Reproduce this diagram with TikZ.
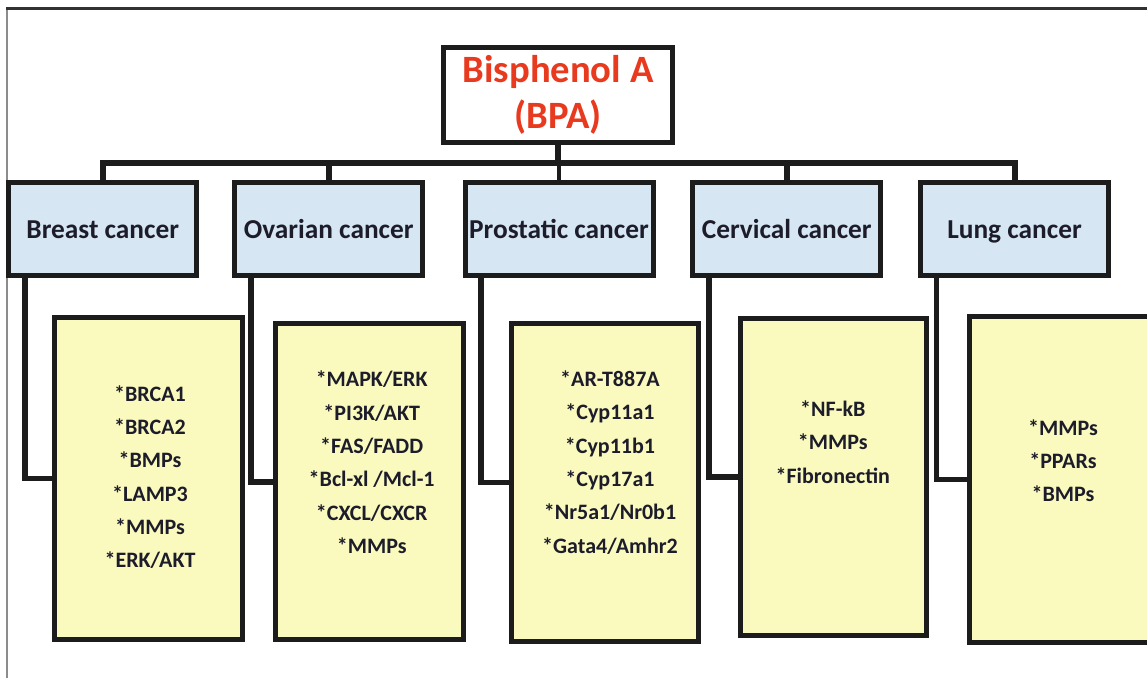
\documentclass[tikz,border=0pt]{standalone}
\usepackage{fontspec}
\setmainfont{Carlito}
\usepackage{tikz}
\definecolor{boxblue}{RGB}{214,230,242}
\definecolor{boxyellow}{RGB}{250,249,190}
\definecolor{bpared}{RGB}{232,58,30}
\definecolor{linedark}{RGB}{28,28,28}
\definecolor{textdark}{RGB}{28,28,42}

\begin{document}
\begin{tikzpicture}[x=0.75pt,y=0.75pt,yscale=-1,xscale=1,
  topbox/.style={draw=linedark,line width=3.75pt,fill=white,minimum width=171.4pt,minimum height=71.25pt,inner sep=0pt,align=center,text=bpared,font=\bfseries\fontsize{29}{34.5}\selectfont},
  cancerbox/.style={draw=linedark,line width=3.75pt,fill=boxblue,minimum width=141pt,minimum height=70pt,inner sep=0pt,text height=16pt,text depth=1.5pt,text=textdark,font=\bfseries\fontsize{20.5}{24}\selectfont},
  genebox/.style={draw=linedark,line width=3.75pt,fill=boxyellow,inner sep=0pt},
  genetext/.style={align=center,inner sep=0pt,text=textdark,font=\bfseries\fontsize{16.5}{25}\selectfont},
  link/.style={draw=linedark,line width=4.2pt}]
\useasboundingbox (0,0) rectangle (1147,678);

%Frame lines
\draw [color={rgb, 255:red, 140; green, 140; blue, 140 }][line width=1.5pt] (7,678) -- (7,8.7) ;
\draw [color={rgb, 255:red, 50; green, 50; blue, 50 }][line width=2.6pt] (6.3,8.7) -- (1147,8.7) ;

%Top box
\node (bpa) at (558,95) [topbox] {Bisphenol A\\(BPA)};

%Cancer boxes
\node (breast) at (102.75,229) [cancerbox] {Breast cancer};
\node (ovarian) at (328.75,229) [cancerbox] {Ovarian cancer};
\node (prostatic) at (559,229) [cancerbox] {Prostatic cancer};
\node (cervical) at (786.75,229) [cancerbox] {Cervical cancer};
\node (lung) at (1014.5,229) [cancerbox] {Lung cancer};

%Gene boxes
\node (g-breast) at (148.5,478.6) [genebox,minimum width=141pt,minimum height=241.6pt] {};
\node (g-ovarian) at (369.85,481.7) [genebox,minimum width=140.8pt,minimum height=237pt] {};
\node (g-prostatic) at (604.75,482.35) [genebox,minimum width=139.9pt,minimum height=238pt] {};
\node (g-cervical) at (833.5,477.15) [genebox,minimum width=139.5pt,minimum height=237.5pt] {};
\node (g-lung) at (1063,479.5) [genebox,minimum width=141pt,minimum height=243.8pt] {};

%Tree lines
\coordinate (bus) at (558,162.5);
\draw [link,line width=5pt] (bpa.south) -- (bpa.south |- bus) ;
\draw [link,line width=4.5pt] (breast.north) |- (bus) -| (lung.north) ;
\draw [link] (ovarian.north) -- (ovarian.north |- bus) ;
\draw [link,line width=2.6pt] (prostatic.north) -- (prostatic.north |- bus) ;
\draw [link] (cervical.north) -- (cervical.north |- bus) ;
\foreach \n in {breast,ovarian,prostatic,cervical,lung}
  \draw [link] ([xshift=13.9pt]\n.south west) |- (g-\n.west) ;

% Text Node
\node (t-breast) at (150,477) [genetext] {*BRCA1\\*BRCA2\\*BMPs\\*LAMP3\\*MMPs\\*ERK/AKT};
% Text Node
\node (t-ovarian) at (371.7,462.5) [genetext] {*MAPK/ERK\\*PI3K/AKT\\*FAS/FADD\\*Bcl-xl /Mcl-1\\*CXCL/CXCR\\*MMPs};
% Text Node
\node (t-prostatic) at (610,462.5) [genetext] {*AR-T887A\\*Cyp11a1\\*Cyp11b1\\*Cyp17a1\\*Nr5a1/Nr0b1\\*Gata4/Amhr2};
% Text Node
\node (t-cervical) at (832.8,442) [genetext] {*NF-kB\\*MMPs\\*Fibronectin};
% Text Node
\node (t-lung) at (1063,460.7) [genetext] {*MMPs\\*PPARs\\*BMPs};
\end{tikzpicture}
\end{document}
